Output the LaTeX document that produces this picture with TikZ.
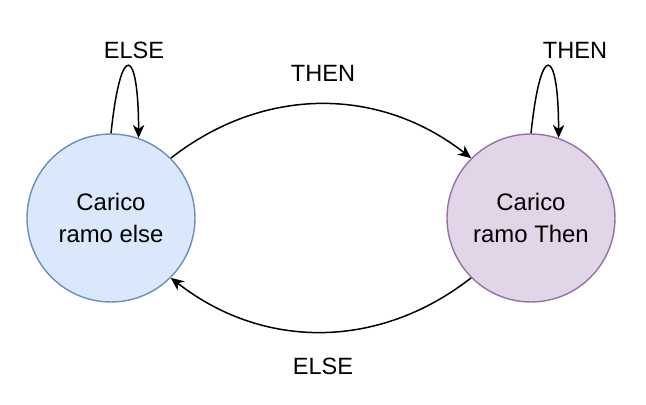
\documentclass[tikz,border=0pt]{standalone}
\usepackage{fontspec}
\setmainfont{Liberation Sans}
\usepackage{tikz}
\usetikzlibrary{arrows.meta,positioning}
\definecolor{ElseFill}{HTML}{DAE8FC}
\definecolor{ElseLine}{HTML}{6C8EBF}
\definecolor{ThenFill}{HTML}{E1D5E7}
\definecolor{ThenLine}{HTML}{9673A6}

\begin{document}
\begin{tikzpicture}[
  x=0.02cm,y=-0.02cm,
  state/.style={circle,line width=0.8pt,minimum size=3.36cm,inner sep=0pt,align=center,font=\fontsize{13.6}{18.6}\selectfont},
  state1/.style={state,draw=ElseLine,fill=ElseFill},
  state2/.style={state,draw=ThenLine,fill=ThenFill},
  lbl/.style={font=\fontsize{13.4}{16}\selectfont},
  arrow/.style={-{Stealth[length=2.6mm,width=2.3mm,inset=0.8mm]},line width=0.85pt,draw=black}
]
\useasboundingbox (0,0) rectangle (646,405);
\node[state1] (ramoelse) at (111,218) {Carico\\ramo else};
\node[state2] (ramothen) at (531,218) {Carico\\ramo Then};
\node[lbl] (elseloop) at (134,50) {ELSE};
\node[lbl] (thenloop) at (575,50) {THEN};
\node[lbl] (thentop) at (323,73) {THEN};
\node[lbl] (elsebot) at (323,366) {ELSE};
\draw[arrow] (ramoelse.45) to[bend left=38] (ramothen.135);
\draw[arrow] (ramothen.225) to[bend left=38] (ramoelse.315);
\draw[arrow] (ramoelse.90) .. controls +(10,-95) and +(0,-90) .. (ramoelse.71);
\draw[arrow] (ramothen.90) .. controls +(10,-95) and +(0,-90) .. (ramothen.71);
\end{tikzpicture}
\end{document}
